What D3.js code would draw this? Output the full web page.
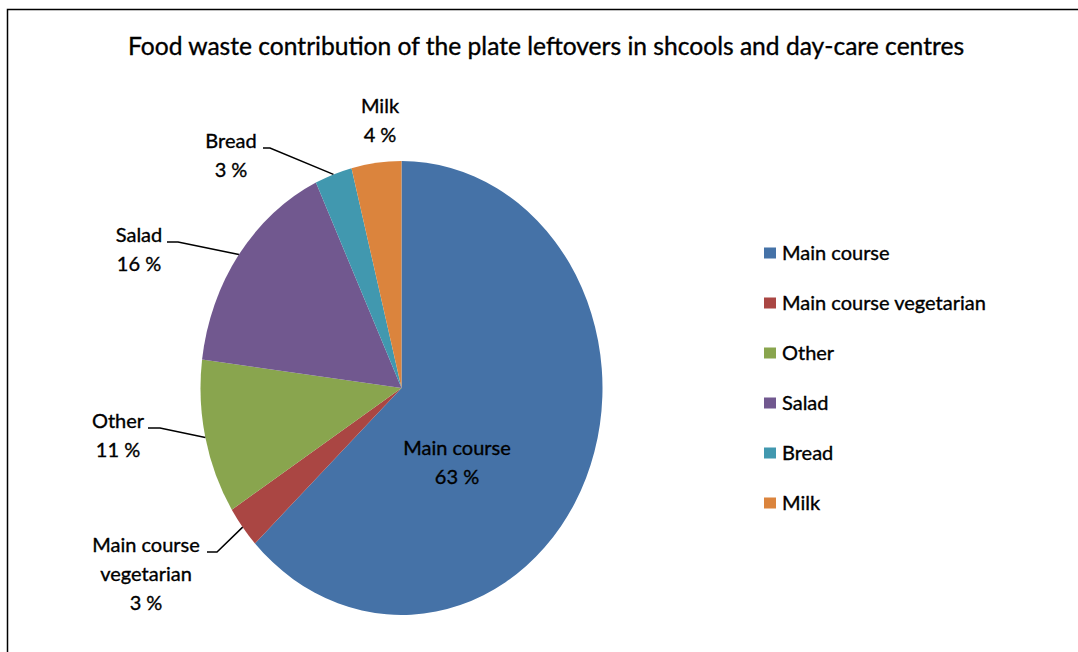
<!DOCTYPE html>
<html>
<head>
<meta charset="utf-8">
<script src="https://cdn.jsdelivr.net/npm/d3@7"></script>
<style>
  html, body { margin: 0; padding: 0; background: #fff; }
  svg { display: block; }
  text { font-family: Lato, "Open Sans", sans-serif; fill: #000; stroke: #000; stroke-width: 0.35px; }
</style>
</head>
<body>
<svg id="chart" width="1078" height="652"></svg>
<script>
// Share of plate leftovers by food type (%)
const categories = ["Main course", "Main course vegetarian", "Other", "Salad", "Bread", "Milk"];
const values = [63, 3, 11, 16, 3, 4];
const colors = ["#4572A7", "#AA4643", "#89A54E", "#71588F", "#4198AF", "#DB843D"];
const titleText = "Food waste contribution of the plate leftovers in shcools and day-care centres";

const svg = d3.select("#chart");

// Outer chart frame (runs past the right and bottom edges)
svg.append("rect")
  .attr("x", 7.5).attr("y", 9.5)
  .attr("width", 1200).attr("height", 800)
  .attr("fill", "#fff").attr("stroke", "#000").attr("stroke-width", 1.5);

svg.append("text")
  .attr("x", 546).attr("y", 55)
  .attr("text-anchor", "middle")
  .attr("font-size", 24.6)
  .text(titleText);

// Pie geometry: drawn as a circle, stretched vertically into an ellipse
const cx = 401.5, cy = 388, rx = 201, ry = 227;
const sx = rx / ry;

const pie = d3.pie().value(d => d).sort(null);
const arcs = pie(values);
const arc = d3.arc().innerRadius(0).outerRadius(ry);

const g = svg.append("g").attr("transform", `translate(${cx},${cy}) scale(${sx},1)`);
g.selectAll("path")
  .data(arcs)
  .enter().append("path")
  .attr("d", arc)
  .attr("fill", (d, i) => colors[i]);

// Point on the ellipse edge at the middle angle of a slice
function edgePoint(d) {
  const a = (d.startAngle + d.endAngle) / 2;
  return [cx + rx * Math.sin(a), cy - ry * Math.cos(a)];
}

// Data label placement: text anchor and the elbow of the leader line
const labelLayout = [
  { x: 457, y: 455, lines: ["Main course"] },
  { x: 146, y: 552, lines: ["Main course", "vegetarian"], elbow: [[207, 552], [217, 552]] },
  { x: 118, y: 428, lines: ["Other"], elbow: [[148, 428], [160, 428]] },
  { x: 139, y: 242, lines: ["Salad"], elbow: [[167, 242], [178, 242]] },
  { x: 231, y: 148, lines: ["Bread"], elbow: [[263, 148], [270, 148]] },
  { x: 380, y: 113, lines: ["Milk"] }
];

const lineH = 29;
const labels = svg.append("g");
arcs.forEach((d, i) => {
  const L = labelLayout[i];
  const t = labels.append("text")
    .attr("text-anchor", "middle")
    .attr("font-size", 20);
  L.lines.forEach((ln, k) => {
    t.append("tspan").attr("x", L.x).attr("y", L.y + k * lineH).text(ln);
  });
  t.append("tspan").attr("x", L.x).attr("y", L.y + L.lines.length * lineH)
    .text(d3.format("d")(values[i]) + " %");

  if (L.elbow) {
    const pts = L.elbow.concat([edgePoint(d)]);
    labels.append("path")
      .attr("d", d3.line()(pts))
      .attr("fill", "none")
      .attr("stroke", "#000")
      .attr("stroke-width", 1.5);
  }
});

// Legend
const legend = svg.append("g");
const legendY = d3.scalePoint().domain(categories).range([253, 503]);
categories.forEach((c, i) => {
  const y = legendY(c);
  legend.append("rect")
    .attr("x", 764).attr("y", y - 5.5)
    .attr("width", 12).attr("height", 11)
    .attr("fill", colors[i]);
  legend.append("text")
    .attr("x", 782).attr("y", y)
    .attr("dy", "0.35em")
    .attr("font-size", 20)
    .text(c);
});
</script>
</body>
</html>
